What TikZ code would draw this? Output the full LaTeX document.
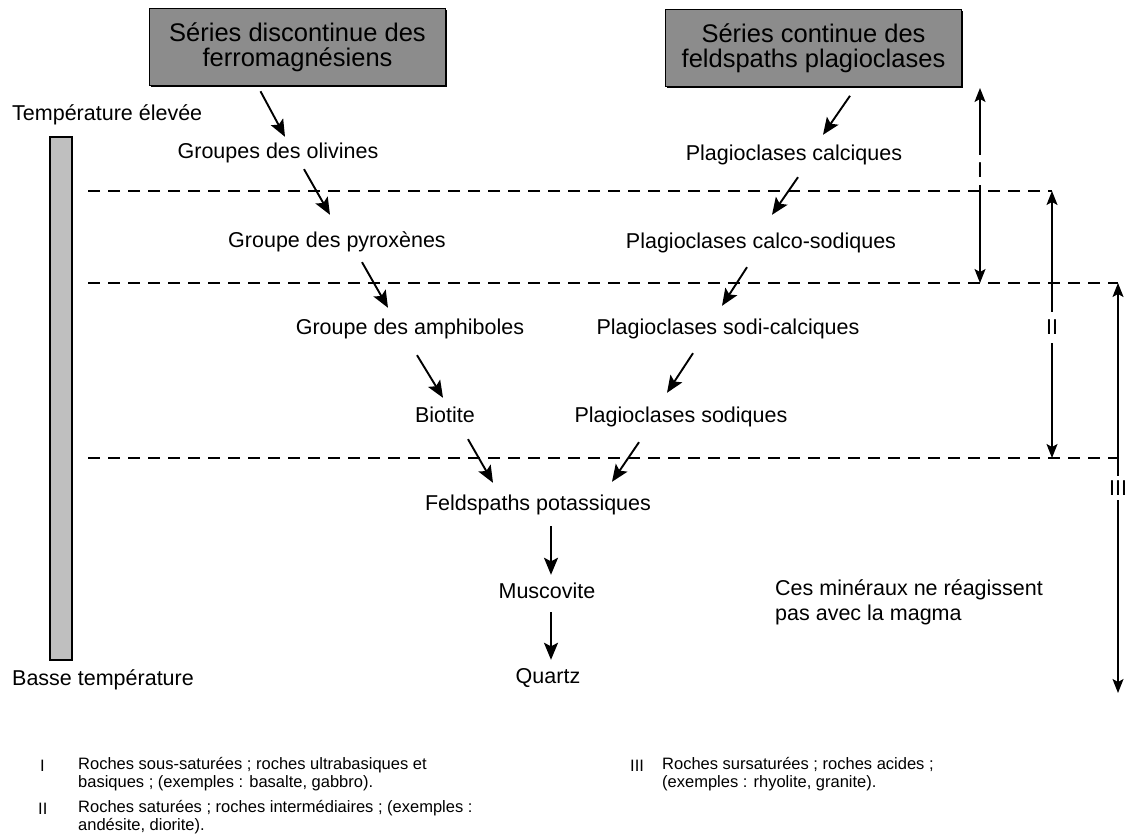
\documentclass[tikz,border=0pt]{standalone}
\usepackage{fontspec}
\setmainfont{Liberation Sans}
\usetikzlibrary{arrows.meta,positioning,shadows}

\begin{document}
\begin{tikzpicture}[
  x=1pt, y=-1pt,
  font=\fontsize{21.5}{25}\selectfont,
  serie/.style={
    draw,
    line width=1.6pt,
    fill=black!45,
    align=center,
    minimum width=296pt,
    minimum height=77pt,
    font=\fontsize{25.5}{25}\selectfont,
    drop shadow={shadow xshift=1.5pt,shadow yshift=-1.5pt,opacity=1,fill=black}
  },
  mineral/.style={inner sep=2pt, text height=16pt, text depth=5pt},
  flow/.style={-{Stealth[length=17pt,width=14pt,inset=3.5pt]},line width=1.9pt},
  level/.style={dash pattern=on 12pt off 8pt,line width=1.2pt},
  span/.style={{Stealth[length=14pt,width=11pt,inset=3pt]}-{Stealth[length=14pt,width=11pt,inset=3pt]},line width=1.3pt},
  roman/.style={fill=white,inner xsep=3pt,inner ysep=8pt},
  legend/.style={align=left,font=\fontsize{16.5}{18}\selectfont,inner sep=0pt,anchor=north west},
  key/.style={legend,yshift=-2.5pt}
]
\useasboundingbox (0,0) rectangle (1125,835);

% temperature scale
\draw[line width=1.4pt,fill=black!25] (50,137) rectangle (72,660);
\node[mineral,anchor=west] (hot) at (10,115) {Température élevée};
\node[mineral,anchor=west] (cold) at (10,680) {Basse température};

% the two series
\node[serie] (ferro) at (297.5,47) {Séries discontinue des\\ferromagnésiens};
\node[serie] (plagio) at (813.5,48) {Séries continue des\\feldspaths plagioclases};

\node[mineral] (olivine) at (278,153) {Groupes des olivines};
\node[mineral] (pyroxene) at (337,242) {Groupe des pyroxènes};
\node[mineral] (amphibole) at (410,329) {Groupe des amphiboles};
\node[mineral] (biotite) at (445,417) {Biotite};
\node[mineral] (plagCa) at (794,155) {Plagioclases calciques};
\node[mineral] (plagCaNa) at (761,243) {Plagioclases calco-sodiques};
\node[mineral] (plagNaCa) at (728,329) {Plagioclases sodi-calciques};
\node[mineral] (plagNa) at (681,417) {Plagioclases sodiques};
\node[mineral] (feldK) at (538,505) {Feldspaths potassiques};
\node[mineral] (muscovite) at (547,593) {Muscovite};
\node[mineral] (quartz) at (548,678) {Quartz};
\node[align=left,anchor=west,inner sep=0pt] (note) at (775,602) {Ces minéraux ne réagissent\\pas avec la magma};

% discontinuous branch
\draw[flow] ([xshift=-37pt,yshift=-5pt]ferro.south) -- ([xshift=7pt,yshift=3.5pt]olivine.north);
\draw[flow] ([xshift=26pt,yshift=-3.5pt]olivine.south) -- ([xshift=-7pt,yshift=14.5pt]pyroxene.north);
\draw[flow] ([xshift=25pt,yshift=-7.5pt]pyroxene.south) -- ([xshift=-22pt,yshift=8.5pt]amphibole.north);
\draw[flow] ([xshift=7pt,yshift=-13.5pt]amphibole.south) -- ([xshift=-2pt,yshift=6.5pt]biotite.north);
\draw[flow] ([xshift=23pt,yshift=-9.5pt]biotite.south) -- ([xshift=-45pt,yshift=9.5pt]feldK.north);

% continuous branch
\draw[flow] ([xshift=36.5pt,yshift=-8.5pt]plagio.south) -- ([xshift=29pt,yshift=7.5pt]plagCa.north);
\draw[flow] ([xshift=4pt,yshift=-9.5pt]plagCa.south) -- ([xshift=11pt,yshift=15.5pt]plagCaNa.north);
\draw[flow] ([xshift=-14pt,yshift=-11.5pt]plagCaNa.south) -- ([xshift=-6pt,yshift=10.5pt]plagNaCa.north);
\draw[flow] ([xshift=-35pt,yshift=-11.5pt]plagNaCa.south) -- ([xshift=-14pt,yshift=11.5pt]plagNa.north);
\draw[flow] ([xshift=-42pt,yshift=-12.5pt]plagNa.south) -- ([xshift=74pt,yshift=10.5pt]feldK.north);

% common end
\draw[flow] ([xshift=13pt,yshift=-8.5pt]feldK.south) -- ([xshift=4pt,yshift=5.5pt]muscovite.north);
\draw[flow] ([xshift=4pt,yshift=-6.5pt]muscovite.south) -- ([xshift=3pt,yshift=5.5pt]quartz.north);

% rock classes
\draw[level] (88,191) -- (1052,191);
\draw[level] (88,283) -- (1118,283);
\draw[level] (88,458) -- (1118,458);
\draw[span] (980,88) -- node[roman,pos=0.42] (classI) {I} (980,283);
\draw[span] (1052,191) -- node[roman,pos=0.51] (classII) {II} (1052,458);
\draw[span] (1118,283) -- node[roman,pos=0.5,inner ysep=5pt] (classIII) {III} (1118,693);

% legend
\node[key] (keyI) at (40,757) {I};
\node[legend] (textI) at (78,757) {Roches sous-saturées ; roches ultrabasiques et\\basiques ; (exemples : basalte, gabbro).};
\node[key] (keyII) at (38,800) {II};
\node[legend] (textII) at (78,800) {Roches saturées ; roches intermédiaires ; (exemples :\\andésite, diorite).};
\node[key] (keyIII) at (630,757) {III};
\node[legend] (textIII) at (662,757) {Roches sursaturées ; roches acides ;\\(exemples : rhyolite, granite).};
\end{tikzpicture}
\end{document}
